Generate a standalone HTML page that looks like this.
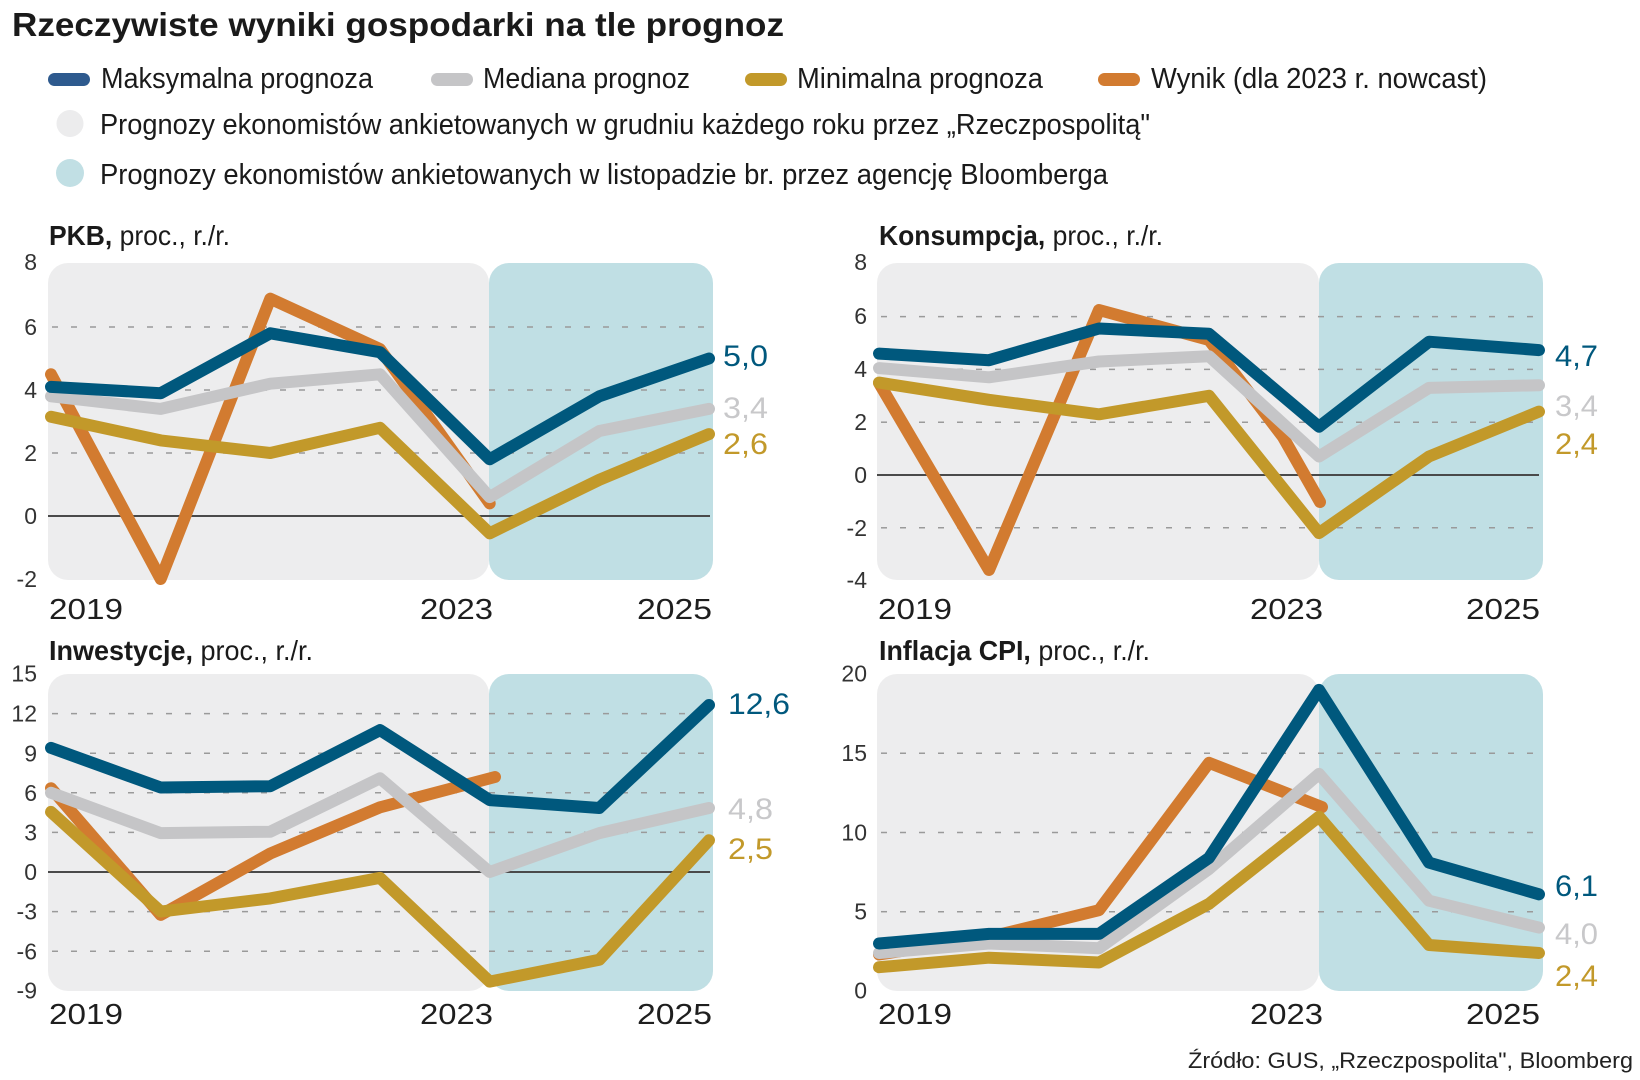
<!DOCTYPE html>
<html>
<head>
<meta charset="utf-8">
<style>
html,body{margin:0;padding:0;background:#fff;}
svg{display:block;}
text{font-family:"Liberation Sans",sans-serif;}
</style>
</head>
<body>
<svg width="1640" height="1080" viewBox="0 0 1640 1080" xmlns="http://www.w3.org/2000/svg">
<rect width="1640" height="1080" fill="#ffffff"/>

<!-- Title -->
<text x="12" y="36" font-size="33" font-weight="bold" fill="#1a1a1a" textLength="772" lengthAdjust="spacingAndGlyphs">Rzeczywiste wyniki gospodarki na tle prognoz</text>

<!-- Legend row 1 -->
<rect x="48" y="73" width="42" height="13" rx="6.5" fill="#2e5a8e"/>
<text x="101" y="88" font-size="29" fill="#1a1a1a" textLength="272" lengthAdjust="spacingAndGlyphs">Maksymalna prognoza</text>
<rect x="431" y="73" width="42" height="13" rx="6.5" fill="#c5c5c7"/>
<text x="483" y="88" font-size="29" fill="#1a1a1a" textLength="207" lengthAdjust="spacingAndGlyphs">Mediana prognoz</text>
<rect x="745" y="73" width="42" height="13" rx="6.5" fill="#c2992a"/>
<text x="797" y="88" font-size="29" fill="#1a1a1a" textLength="246" lengthAdjust="spacingAndGlyphs">Minimalna prognoza</text>
<rect x="1098" y="73" width="42" height="13" rx="6.5" fill="#d27b30"/>
<text x="1151" y="88" font-size="29" fill="#1a1a1a" textLength="336" lengthAdjust="spacingAndGlyphs">Wynik (dla 2023 r. nowcast)</text>

<!-- Legend row 2 -->
<circle cx="70" cy="123.5" r="13.5" fill="#ececed"/>
<text x="100" y="134" font-size="29" fill="#1a1a1a" textLength="1050" lengthAdjust="spacingAndGlyphs">Prognozy ekonomistów ankietowanych w grudniu każdego roku przez „Rzeczpospolitą"</text>
<!-- Legend row 3 -->
<circle cx="70" cy="173" r="14" fill="#c1dfe4"/>
<text x="100" y="184" font-size="29" fill="#1a1a1a" textLength="1008" lengthAdjust="spacingAndGlyphs">Prognozy ekonomistów ankietowanych w listopadzie br. przez agencję Bloomberga</text>

<!-- ================= PKB ================= -->
<text x="49" y="245" font-size="28" fill="#1a1a1a" textLength="181" lengthAdjust="spacingAndGlyphs"><tspan font-weight="bold">PKB,</tspan> proc., r./r.</text>
<rect x="48" y="263" width="441" height="317" rx="20" fill="#ededee"/>
<rect x="489" y="263" width="224" height="317" rx="20" fill="#c0dfe4"/>
<g stroke="#9a9a9a" stroke-width="1.5" stroke-dasharray="6 13">
<line x1="52" y1="327" x2="712" y2="327"/>
<line x1="52" y1="390" x2="712" y2="390"/>
<line x1="52" y1="453" x2="712" y2="453"/>
</g>
<line x1="48" y1="516" x2="710" y2="516" stroke="#4a4a4a" stroke-width="2"/>
<g font-size="23" fill="#333" text-anchor="end">
<text x="37" y="270">8</text>
<text x="37" y="335">6</text>
<text x="37" y="398">4</text>
<text x="37" y="461">2</text>
<text x="37" y="524">0</text>
<text x="37" y="587">-2</text>
</g>
<g fill="none" stroke-width="12" stroke-linecap="round" stroke-linejoin="round">
<polyline stroke="#d27b30" points="51,374.3 160.7,579 270.3,298.7 380,349.1 489.7,503.4"/>
<polyline stroke="#c2992a" points="51,416.8 160.7,440.4 270.3,453 380,427.8 489.7,533.3 599.3,479.8 709,434.1"/>
<polyline stroke="#c5c5c7" points="51,396.3 160.7,408.9 270.3,383.7 380,374.3 489.7,497.1 599.3,431 709,408.9"/>
<polyline stroke="#00587d" points="51,386.9 160.7,393.2 270.3,333.3 380,352.2 489.7,459.3 599.3,396.3 709,358.5"/>
</g>
<text x="723" y="366" font-size="30" fill="#00587d" textLength="45" lengthAdjust="spacingAndGlyphs">5,0</text>
<text x="723" y="418" font-size="30" fill="#c8c8ca" textLength="45" lengthAdjust="spacingAndGlyphs">3,4</text>
<text x="723" y="454" font-size="30" fill="#c2992a" textLength="45" lengthAdjust="spacingAndGlyphs">2,6</text>
<g font-size="29" fill="#1e1e1e">
<text x="49" y="619" textLength="74" lengthAdjust="spacingAndGlyphs">2019</text>
<text x="420" y="619" textLength="73" lengthAdjust="spacingAndGlyphs">2023</text>
<text x="637" y="619" textLength="75" lengthAdjust="spacingAndGlyphs">2025</text>
</g>

<!-- ================= Konsumpcja ================= -->
<text x="879" y="245" font-size="28" fill="#1a1a1a" textLength="284" lengthAdjust="spacingAndGlyphs"><tspan font-weight="bold">Konsumpcja,</tspan> proc., r./r.</text>
<rect x="877" y="263" width="442" height="317" rx="20" fill="#ededee"/>
<rect x="1319" y="263" width="224" height="317" rx="20" fill="#c0dfe4"/>
<g stroke="#9a9a9a" stroke-width="1.5" stroke-dasharray="6 13">
<line x1="881" y1="316.6" x2="1541" y2="316.6"/>
<line x1="881" y1="369.4" x2="1541" y2="369.4"/>
<line x1="881" y1="422.2" x2="1541" y2="422.2"/>
<line x1="881" y1="527.8" x2="1541" y2="527.8"/>
</g>
<line x1="877" y1="475" x2="1539" y2="475" stroke="#4a4a4a" stroke-width="2"/>
<g font-size="23" fill="#333" text-anchor="end">
<text x="867" y="270">8</text>
<text x="867" y="324">6</text>
<text x="867" y="377">4</text>
<text x="867" y="430">2</text>
<text x="867" y="483">0</text>
<text x="867" y="536">-2</text>
<text x="867" y="588">-4</text>
</g>
<g fill="none" stroke-width="12" stroke-linecap="round" stroke-linejoin="round">
<polyline stroke="#d27b30" points="879,383 989,570 1099,310 1209,340 1283,437 1320,502"/>
<polyline stroke="#c2992a" points="879,382.6 989,399.8 1099,414.3 1209,395.8 1319,533.1 1429,456.5 1539,411.6"/>
<polyline stroke="#c5c5c7" points="879,368.1 989,377.3 1099,361.5 1209,356.2 1319,456.5 1429,387.9 1539,385.2"/>
<polyline stroke="#00587d" points="879,353.6 989,360.2 1099,328.5 1209,333.8 1319,426.7 1429,341.7 1539,350.1"/>
</g>
<text x="1555" y="366" font-size="30" fill="#00587d" textLength="43" lengthAdjust="spacingAndGlyphs">4,7</text>
<text x="1555" y="416" font-size="30" fill="#c8c8ca" textLength="43" lengthAdjust="spacingAndGlyphs">3,4</text>
<text x="1555" y="454" font-size="30" fill="#c2992a" textLength="43" lengthAdjust="spacingAndGlyphs">2,4</text>
<g font-size="29" fill="#1e1e1e">
<text x="878" y="619" textLength="74" lengthAdjust="spacingAndGlyphs">2019</text>
<text x="1250" y="619" textLength="73" lengthAdjust="spacingAndGlyphs">2023</text>
<text x="1466" y="619" textLength="74" lengthAdjust="spacingAndGlyphs">2025</text>
</g>

<!-- ================= Inwestycje ================= -->
<text x="49" y="660" font-size="28" fill="#1a1a1a" textLength="264" lengthAdjust="spacingAndGlyphs"><tspan font-weight="bold">Inwestycje,</tspan> proc., r./r.</text>
<rect x="48" y="674" width="441" height="317" rx="20" fill="#ededee"/>
<rect x="489" y="674" width="224" height="317" rx="20" fill="#c0dfe4"/>
<g stroke="#9a9a9a" stroke-width="1.5" stroke-dasharray="6 13">
<line x1="52" y1="713.6" x2="712" y2="713.6"/>
<line x1="52" y1="753.2" x2="712" y2="753.2"/>
<line x1="52" y1="792.8" x2="712" y2="792.8"/>
<line x1="52" y1="832.4" x2="712" y2="832.4"/>
<line x1="52" y1="911.6" x2="712" y2="911.6"/>
<line x1="52" y1="951.2" x2="712" y2="951.2"/>
</g>
<line x1="48" y1="872" x2="710" y2="872" stroke="#4a4a4a" stroke-width="2"/>
<g font-size="23" fill="#333" text-anchor="end">
<text x="37" y="681.5">15</text>
<text x="37" y="721.5">12</text>
<text x="37" y="761.5">9</text>
<text x="37" y="801">6</text>
<text x="37" y="840.5">3</text>
<text x="37" y="880">0</text>
<text x="37" y="919.5">-3</text>
<text x="37" y="959.5">-6</text>
<text x="37" y="998.5">-9</text>
</g>
<g fill="none" stroke-width="12" stroke-linecap="round" stroke-linejoin="round">
<polyline stroke="#d27b30" points="51,788.2 160.7,914.9 270.3,853.5 380,807.3 495,777"/>
<polyline stroke="#c2992a" points="51,811.9 160.7,911.6 270.3,898.4 380,877.9 489.7,981.6 599.3,959.8 709,840.3"/>
<polyline stroke="#c5c5c7" points="51,792.8 160.7,833.1 270.3,831.7 380,778.3 489.7,872 599.3,833.1 709,808"/>
<polyline stroke="#00587d" points="51,747.9 160.7,787.5 270.3,786.2 380,730.1 489.7,800.1 599.3,808 709,705"/>
</g>
<text x="728" y="714" font-size="30" fill="#00587d" textLength="62" lengthAdjust="spacingAndGlyphs">12,6</text>
<text x="728" y="819" font-size="30" fill="#c8c8ca" textLength="45" lengthAdjust="spacingAndGlyphs">4,8</text>
<text x="728" y="859" font-size="30" fill="#c2992a" textLength="45" lengthAdjust="spacingAndGlyphs">2,5</text>
<g font-size="29" fill="#1e1e1e">
<text x="49" y="1024" textLength="74" lengthAdjust="spacingAndGlyphs">2019</text>
<text x="420" y="1024" textLength="73" lengthAdjust="spacingAndGlyphs">2023</text>
<text x="637" y="1024" textLength="75" lengthAdjust="spacingAndGlyphs">2025</text>
</g>

<!-- ================= Inflacja CPI ================= -->
<text x="879" y="660" font-size="28" fill="#1a1a1a" textLength="271" lengthAdjust="spacingAndGlyphs"><tspan font-weight="bold">Inflacja CPI,</tspan> proc., r./r.</text>
<rect x="877" y="674" width="442" height="317" rx="20" fill="#ededee"/>
<rect x="1319" y="674" width="224" height="317" rx="20" fill="#c0dfe4"/>
<g stroke="#9a9a9a" stroke-width="1.5" stroke-dasharray="6 13">
<line x1="881" y1="753.2" x2="1541" y2="753.2"/>
<line x1="881" y1="832.5" x2="1541" y2="832.5"/>
<line x1="881" y1="911.7" x2="1541" y2="911.7"/>
</g>
<g font-size="23" fill="#333" text-anchor="end">
<text x="867" y="681.5">20</text>
<text x="867" y="761">15</text>
<text x="867" y="840.5">10</text>
<text x="867" y="919.5">5</text>
<text x="867" y="998.5">0</text>
</g>
<g fill="none" stroke-width="12" stroke-linecap="round" stroke-linejoin="round">
<polyline stroke="#d27b30" points="879,954.5 989,937.1 1099,910.2 1209,762.8 1322,807.1"/>
<polyline stroke="#c2992a" points="879,967.2 989,957.7 1099,962.5 1209,903.8 1319,816.7 1429,945 1539,953"/>
<polyline stroke="#c5c5c7" points="879,953 989,943.5 1099,948.2 1209,869 1319,773.9 1429,900.7 1539,927.6"/>
<polyline stroke="#00587d" points="879,943.5 989,933.9 1099,933.9 1209,857.9 1319,689.9 1429,862.6 1539,894.3"/>
</g>
<text x="1555" y="896" font-size="30" fill="#00587d" textLength="43" lengthAdjust="spacingAndGlyphs">6,1</text>
<text x="1555" y="944" font-size="30" fill="#c8c8ca" textLength="43" lengthAdjust="spacingAndGlyphs">4,0</text>
<text x="1555" y="986" font-size="30" fill="#c2992a" textLength="43" lengthAdjust="spacingAndGlyphs">2,4</text>
<g font-size="29" fill="#1e1e1e">
<text x="878" y="1024" textLength="74" lengthAdjust="spacingAndGlyphs">2019</text>
<text x="1250" y="1024" textLength="73" lengthAdjust="spacingAndGlyphs">2023</text>
<text x="1466" y="1024" textLength="74" lengthAdjust="spacingAndGlyphs">2025</text>
</g>

<!-- Footnote -->
<text x="1188" y="1068" font-size="22" fill="#222" textLength="445" lengthAdjust="spacingAndGlyphs">Źródło: GUS, „Rzeczpospolita", Bloomberg</text>
</svg>
</body>
</html>
